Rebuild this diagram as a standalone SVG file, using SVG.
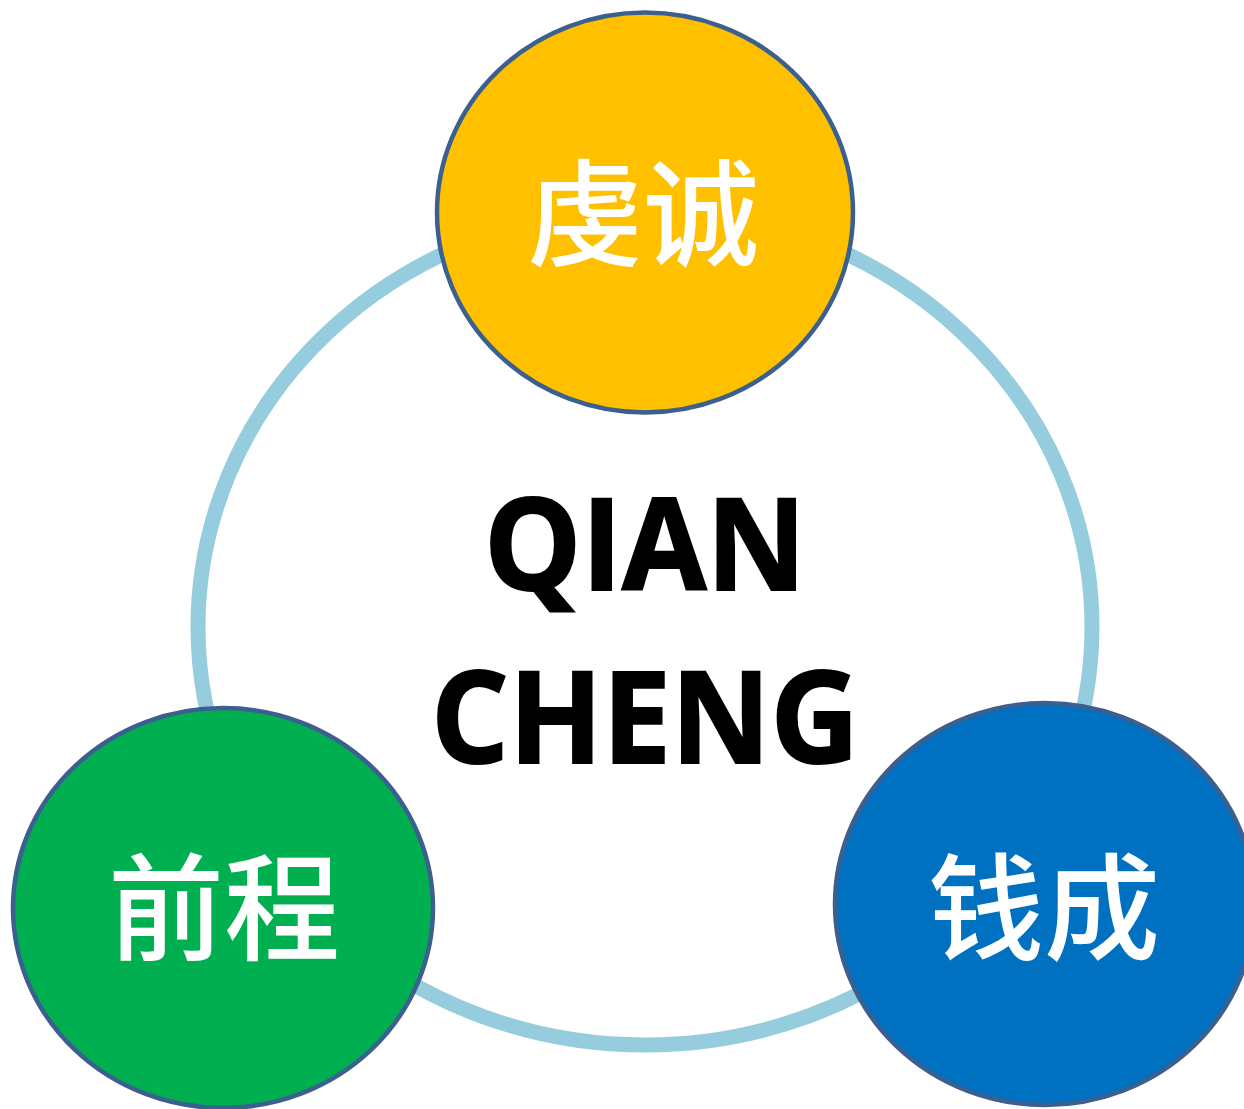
<svg xmlns="http://www.w3.org/2000/svg" width="1244" height="1109" viewBox="0 0 1244 1109">
<style>
.node{stroke:#3B5F8E;stroke-width:4.5}
.cjk{font-family:"Noto Sans CJK SC","Noto Sans",sans-serif;font-size:116px;font-weight:500;fill:#FFFFFF;text-anchor:middle}
.lat{font-family:"Open Sans","Liberation Sans",sans-serif;font-weight:bold;font-size:127px;fill:#000000;stroke:#000000;stroke-width:2;text-anchor:middle}
</style>
<rect width="1244" height="1109" fill="#FFFFFF"/>
<g id="connectors">
<ellipse cx="645" cy="627" rx="447" ry="418" fill="none" stroke="#95CDDE" stroke-width="15"/>
</g>
<g id="center">
<text class="lat" x="645" y="590" textLength="322" lengthAdjust="spacingAndGlyphs">QIAN</text>
<text class="lat" x="645" y="763" textLength="428" lengthAdjust="spacingAndGlyphs">CHENG</text>
</g>
<g id="node-qiancheng1">
<ellipse class="node" cx="645" cy="212.5" rx="208" ry="200" fill="#FFC000"/>
<text class="cjk" x="643" y="257">虔诚</text>
</g>
<g id="node-qiancheng2">
<ellipse class="node" cx="223" cy="908" rx="210" ry="200" fill="#00B050"/>
<text class="cjk" x="224" y="951">前程</text>
</g>
<g id="node-qiancheng3">
<ellipse class="node" cx="1045" cy="904" rx="210" ry="201" fill="#0070C0"/>
<text class="cjk" x="1044" y="951">钱成</text>
</g>
</svg>
